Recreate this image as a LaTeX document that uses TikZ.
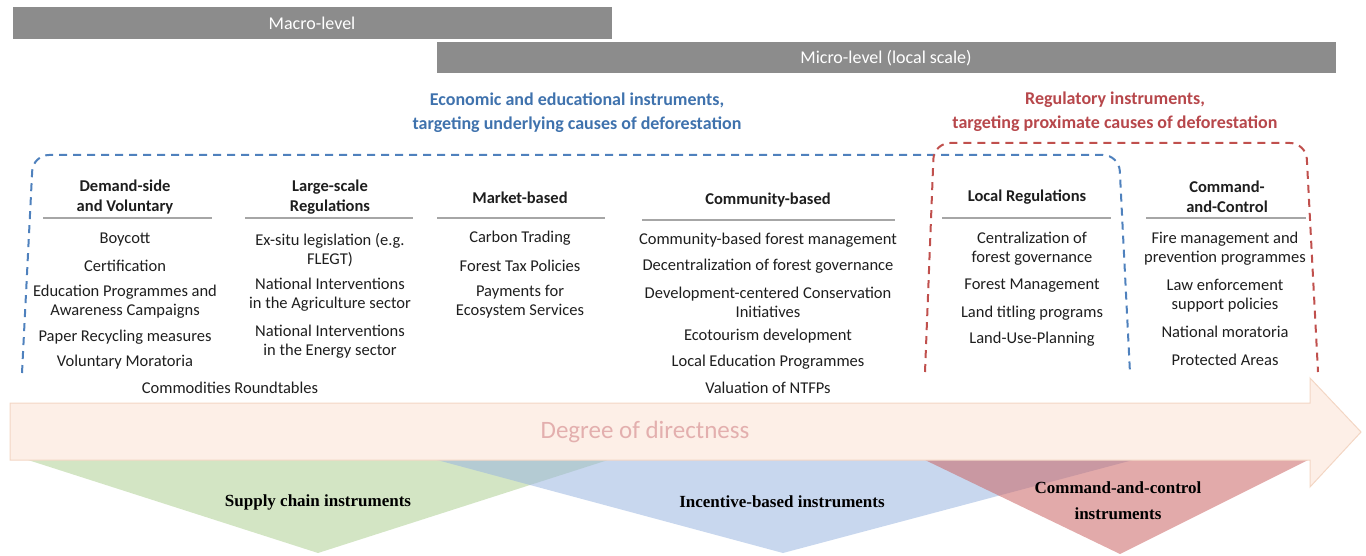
\documentclass[tikz,border=0pt]{standalone}
\usepackage{fontspec}
\setmainfont{Carlito}
\newfontfamily\serifb{Liberation Serif}
\definecolor{barGray}{HTML}{8C8C8C}
\definecolor{ruleGray}{HTML}{A6A6A6}
\definecolor{dashBlue}{HTML}{4F81BD}
\definecolor{dashRed}{HTML}{C0504D}
\definecolor{titleBlue}{HTML}{3F72AD}
\definecolor{titleRed}{HTML}{B7474B}
\definecolor{txt}{HTML}{1E1E1E}
\definecolor{arrowFill}{HTML}{FDEFE7}
\definecolor{arrowLine}{HTML}{F3D6C4}
\definecolor{degText}{HTML}{E3AFAE}
\definecolor{triGreen}{RGB}{175,208,148}
\definecolor{triBlue}{RGB}{155,182,224}
\definecolor{triRed}{RGB}{202,100,100}
\tikzset{
  bar/.style={fill=barGray, draw=none},
  bartext/.style={text=white, font=\fontsize{18}{20}\selectfont, inner sep=0pt},
  title/.style={font=\fontsize{18}{24}\selectfont\bfseries, align=center, inner sep=0pt},
  head/.style={font=\fontsize{16.5}{20}\selectfont\bfseries, align=center, text=txt, inner sep=0pt},
  item/.style={font=\fontsize{16.5}{19}\selectfont, align=center, text=txt, inner sep=0pt},
  rule/.style={draw=ruleGray, line width=2pt},
  dashbox/.style={line width=2pt, dash pattern=on 8pt off 6pt, rounded corners=16pt},
  tri/.style={fill opacity=0.55, draw=none},
  trilabel/.style={font=\fontsize{17}{26}\selectfont\serifb\bfseries, align=center, text=black, inner sep=0pt}
}
\begin{document}
\begin{tikzpicture}[x=1pt,y=-1pt]
\useasboundingbox (0,0) rectangle (1366,556);
% level bars
\fill[bar] (13,7) rectangle (612,39);
\node[bartext] (macro) at (312,23) {Macro-level};
\fill[bar] (437,42) rectangle (1336,73);
\node[bartext] (micro) at (886,58) {Micro-level (local scale)};
% titles
\node[title, text=titleBlue] (tblue) at (577,113) {Economic and educational instruments,\\targeting underlying causes of deforestation};
\node[title, text=titleRed] (tred) at (1115,112) {Regulatory instruments,\\targeting proximate causes of deforestation};
% dashed boxes
\draw[dashbox, draw=dashBlue] (22,373) -- (33,155) -- (1119,155) -- (1130,373);
\draw[dashbox, draw=dashRed] (925,372) -- (934,143) -- (1306,143) -- (1318,372);
% headers
\node[head] (h1) at (125,197) {Demand-side\\and Voluntary};
\node[head] (h2) at (330,197) {Large-scale\\Regulations};
\node[head] (h3) at (520,198) {Market-based};
\node[head] (h4) at (768,200) {Community-based};
\node[head] (h5) at (1027,197) {Local Regulations};
\node[head] (h6) at (1227,197) {Command-\\and-Control};
\draw[rule] (43,218) -- (212,218);
\draw[rule] (245,218) -- (413,218);
\draw[rule] (437,218) -- (605,218);
\draw[rule] (642,220) -- (895,220);
\draw[rule] (942,218) -- (1111,218);
\draw[rule] (1146,218) -- (1306,218);
% column 1
\node[item] (a1) at (125,240) {Boycott};
\node[item] (a2) at (125,266) {Certification};
\node[item] (a3) at (125,302) {Education Programmes and\\Awareness Campaigns};
\node[item] (a4) at (125,337) {Paper Recycling measures};
\node[item] (a5) at (125,362) {Voluntary Moratoria};
\node[item] (a6) at (230,388) {Commodities Roundtables};
% column 2
\node[item] (b1) at (330,250) {Ex-situ legislation (e.g.\\FLEGT)};
\node[item] (b2) at (330,295) {National Interventions\\in the Agriculture sector};
\node[item] (b3) at (330,342) {National Interventions\\in the Energy sector};
% column 3
\node[item] (c1) at (520,238) {Carbon Trading};
\node[item] (c2) at (520,266) {Forest Tax Policies};
\node[item] (c3) at (520,302) {Payments for\\Ecosystem Services};
% column 4
\node[item] (d1) at (768,240) {Community-based forest management};
\node[item] (d2) at (768,266) {Decentralization of forest governance};
\node[item] (d3) at (768,302) {Development-centered Conservation\\Initiatives};
\node[item] (d4) at (768,336) {Ecotourism development};
\node[item] (d5) at (768,362) {Local Education Programmes};
\node[item] (d6) at (768,388) {Valuation of NTFPs};
% column 5
\node[item] (e1) at (1032,249) {Centralization of\\forest governance};
\node[item] (e2) at (1032,286) {Forest Management};
\node[item] (e3) at (1032,313) {Land titling programs};
\node[item] (e4) at (1032,339) {Land-Use-Planning};
% column 6
\node[item] (f1) at (1225,249) {Fire management and\\prevention programmes};
\node[item] (f2) at (1225,296) {Law enforcement\\support policies};
\node[item] (f3) at (1225,332) {National moratoria};
\node[item] (f4) at (1225,360) {Protected Areas};
% triangles
\fill[tri, triGreen] (28,460) -- (608,460) -- (318,553) -- cycle;
\fill[tri, triBlue] (437,460) -- (1133,460) -- (783,553) -- cycle;
\fill[tri, triRed] (925,460) -- (1308,460) -- (1120,554) -- cycle;
% arrow
\draw[fill=arrowFill, draw=arrowLine, line width=1pt, line join=miter]
  (10,403) -- (1310,403) -- (1310,378) -- (1361,432) -- (1310,487) -- (1310,460) -- (10,460) -- cycle;
\node[font=\fontsize{25}{28}\selectfont, text=degText, inner sep=0pt] (deg) at (645,432) {Degree of directness};
% triangle labels
\node[trilabel] (sc) at (318,502) {Supply chain instruments};
\node[trilabel] (ib) at (782,502) {Incentive-based instruments};
\node[trilabel] (cc) at (1118,501) {Command-and-control\\instruments};
\end{tikzpicture}
\end{document}
